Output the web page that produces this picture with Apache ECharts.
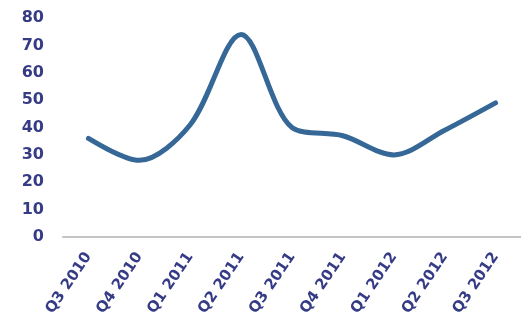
<!DOCTYPE html>
<html><head><meta charset="utf-8">
<script src="https://cdn.jsdelivr.net/npm/echarts@6/dist/echarts.min.js"></script>
<style>html,body{margin:0;padding:0;background:#fff}#c{width:521px;height:329px}</style>
</head><body><div id="c"></div>
<script>
const categories = ['Q3 2010','Q4 2010','Q1 2011','Q2 2011','Q3 2011','Q4 2011','Q1 2012','Q2 2012','Q3 2012'];
const values = [36, 28, 41, 74, 40, 37, 30, 39, 49];
const yTicks = [0, 10, 20, 30, 40, 50, 60, 70, 80];

const chart = echarts.init(document.getElementById('c'), null, {renderer:'canvas'});
chart.setOption({
  animation: false,
  grid: {left: 63, right: 0, top: 18, bottom: 92, containLabel: false},
  xAxis: {
    type: 'category', data: categories, boundaryGap: true,
    axisLine: {lineStyle: {color: '#c4c4c4', width: 2}},
    axisTick: {show: false},
    axisLabel: {rotate: 56, interval: 0, hideOverlap: false, color: '#353c85', fontWeight: 'bold', fontFamily: 'DejaVu Sans', fontSize: 15, margin: 17}
  },
  yAxis: {
    type: 'value', min: yTicks[0], max: yTicks[yTicks.length-1], interval: 10,
    axisLine: {show: false}, axisTick: {show: false}, splitLine: {show: false},
    axisLabel: {color: '#353c85', fontWeight: 'bold', fontFamily: 'DejaVu Sans', fontSize: 16, margin: 19}
  },
  series: [{
    type: 'line', data: values, smooth: 0.32, showSymbol: false,
    lineStyle: {color: '#356797', width: 5, cap: 'round'}
  }]
});
</script></body></html>
